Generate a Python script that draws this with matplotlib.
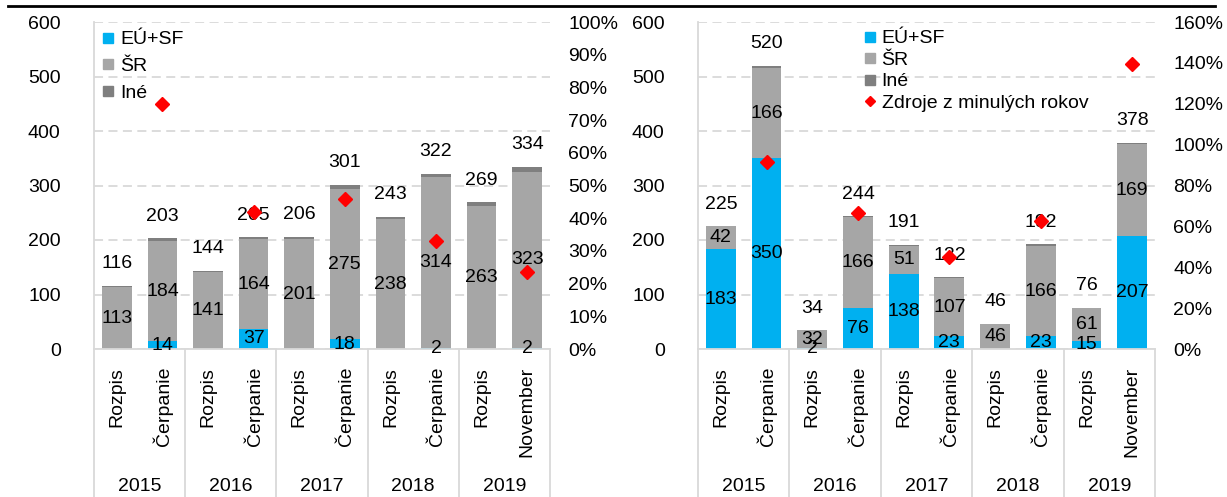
import numpy as np
import matplotlib
matplotlib.use("Agg")
import matplotlib.pyplot as plt
from matplotlib.lines import Line2D

plt.rcParams['font.family'] = ['Liberation Sans', 'DejaVu Sans']
plt.rcParams['font.size'] = 14

kategorie = ['Rozpis', 'Čerpanie', 'Rozpis', 'Čerpanie', 'Rozpis', 'Čerpanie',
             'Rozpis', 'Čerpanie', 'Rozpis', 'November']
roky = ['2015', '2016', '2017', '2018', '2019']

# lavy graf
l_eu = [0, 14, 0, 37, 0, 18, 0, 2, 0, 2]
l_sr = [113, 184, 141, 164, 201, 275, 238, 314, 263, 323]
l_ine = [3, 5, 3, 4, 5, 8, 5, 6, 6, 9]
l_spolu = [116, 203, 144, 205, 206, 301, 243, 322, 269, 334]
l_zdroje = [np.nan, 75, np.nan, 42, np.nan, 46, np.nan, 33, np.nan, 23.5]

# pravy graf
r_eu = [183, 350, 2, 76, 138, 23, 0, 23, 15, 207]
r_sr = [42, 166, 32, 166, 51, 107, 46, 166, 61, 169]
r_ine = [0, 4, 0, 2, 2, 2, 0, 3, 0, 2]
r_spolu = [225, 520, 34, 244, 191, 132, 46, 192, 76, 378]
r_zdroje = [np.nan, 91.5, np.nan, 66.5, np.nan, 45, np.nan, 62.5, np.nan, 139.5]

C_EU = '#00B0F0'
C_SR = '#A6A6A6'
C_INE = '#7F7F7F'
C_GRID = '#D9D9D9'

W, H = 1227, 497
fig = plt.figure(figsize=(W / 100, H / 100), dpi=100)


def panel(x0, x1, eu, sr, ine, spolu, zdroje, pmax, pstep, legend_xy, spacing, s_zdrojmi):
    ax = fig.add_axes([x0 / W, (H - 349) / H, (x1 - x0) / W, 327 / H])
    x = np.arange(len(kategorie))
    eu = np.array(eu)
    sr = np.array(sr)
    ine = np.array(ine)
    ax.bar(x, eu, 0.65, color=C_EU, zorder=2)
    ax.bar(x, sr, 0.65, bottom=eu, color=C_SR, zorder=2)
    ax.bar(x, ine, 0.65, bottom=eu + sr, color=C_INE, zorder=2)
    for i in x:
        if eu[i] > 0:
            ax.text(i, eu[i] / 2, str(eu[i]), ha='center', va='center', zorder=4)
        if sr[i] > 0:
            ax.text(i, eu[i] + sr[i] / 2, str(sr[i]), ha='center', va='center', zorder=4)
        ax.annotate(str(spolu[i]), (i, spolu[i]), xytext=(0, 22), textcoords='offset pixels',
                    ha='center', va='center', zorder=4)
    ax.set_xlim(-0.5, len(x) - 0.5)
    ax.set_ylim(0, 600)
    ax.set_yticks(range(0, 601, 100))
    ax.yaxis.grid(True, color=C_GRID, linestyle=(0, (5, 3)), linewidth=1.3, zorder=0)
    ax.set_xticks([])
    ax.tick_params(axis='y', length=0, pad=24)
    for s in ['top', 'right']:
        ax.spines[s].set_visible(False)
    for s in ['left', 'bottom']:
        ax.spines[s].set_color(C_GRID)
        ax.spines[s].set_linewidth(1.3)

    # popisy kategorii
    dole = -(H - 349) / 327
    for i in x:
        ax.text(i, -0.055, kategorie[i], transform=ax.get_xaxis_transform(),
                rotation=90, ha='center', va='top')
    for g, rok in enumerate(roky):
        ax.text(2 * g + 0.5, -0.42, rok, transform=ax.get_xaxis_transform(),
                ha='center', va='center')
    for b in np.arange(-0.5, len(x), 2):
        ax.plot([b, b], [0, dole], transform=ax.get_xaxis_transform(),
                color=C_GRID, lw=1.3, clip_on=False)

    ax2 = ax.twinx()
    ax2.plot(x, zdroje, 'D', color='#FF0000', markersize=7, zorder=5)
    ax2.set_ylim(0, pmax)
    ax2.set_yticks(range(0, pmax + 1, pstep))
    ax2.set_yticklabels([f'{v}%' for v in range(0, pmax + 1, pstep)])
    ax2.tick_params(axis='y', length=0, pad=13)
    for s in ax2.spines.values():
        s.set_visible(False)

    handles = [Line2D([], [], marker='s', ls='', color=C_EU, markersize=7),
               Line2D([], [], marker='s', ls='', color=C_SR, markersize=7),
               Line2D([], [], marker='s', ls='', color=C_INE, markersize=7)]
    labels = ['EÚ+SF', 'ŠR', 'Iné']
    if s_zdrojmi:
        handles.append(Line2D([], [], marker='D', ls='', color='#FF0000', markersize=5))
        labels.append('Zdroje z minulých rokov')
    ax2.legend(handles, labels, loc='upper left', bbox_to_anchor=legend_xy,
               frameon=False, handlelength=0.6, handletextpad=0.3,
               labelspacing=spacing, borderpad=0.2, borderaxespad=0)
    return ax, ax2


panel(94, 550, l_eu, l_sr, l_ine, l_spolu, l_zdroje, 100, 10, (0.01, 0.985), 0.47, False)
panel(698, 1155, r_eu, r_sr, r_ine, r_spolu, r_zdroje, 160, 20, (0.355, 0.988), 0.2, True)

fig.add_artist(Line2D([8 / W, 1215 / W], [1 - 6 / H, 1 - 6 / H], color='black', lw=2))

fig.savefig('out.png', dpi=100)
